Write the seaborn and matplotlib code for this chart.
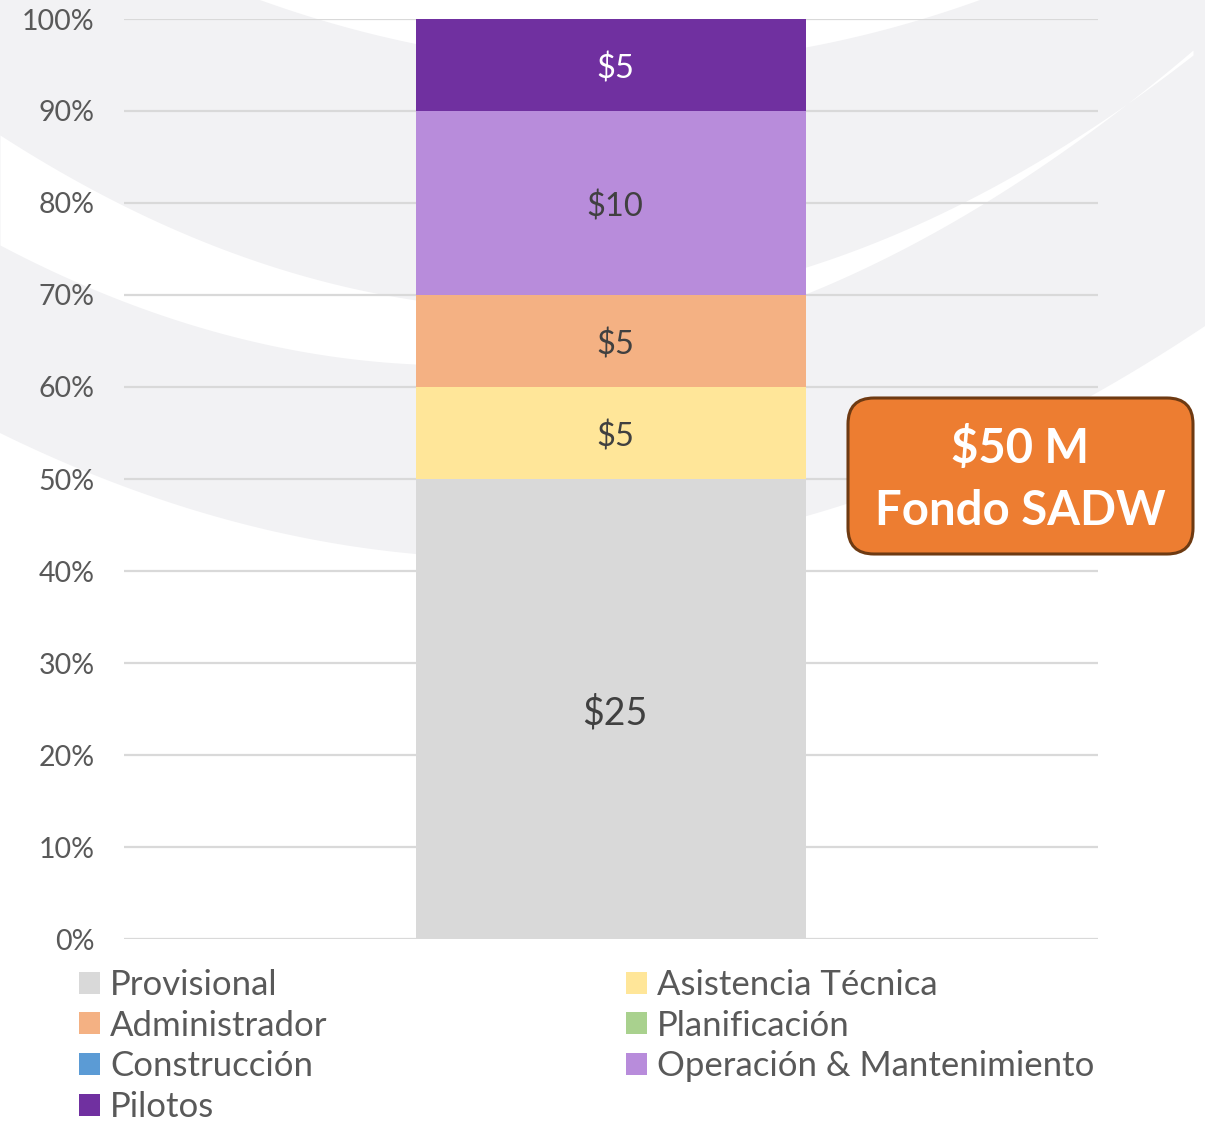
import numpy as np
import pandas as pd
import matplotlib
matplotlib.use("Agg")
import matplotlib.pyplot as plt
from matplotlib.patches import Patch, FancyBboxPatch
import seaborn as sns

# ---------------- data ----------------
categories = ["Provisional", "Asistencia Técnica", "Administrador", "Planificación",
              "Construcción", "Operación & Mantenimiento", "Pilotos"]
values_musd = [25, 5, 5, 0, 0, 10, 5]
colors = ["#D9D9D9", "#FFE699", "#F4B183", "#A9D18E", "#5B9BD5", "#B88CDB", "#7030A0"]
label_colors = ["#404040", "#404040", "#404040", "#404040", "#404040", "#404040", "#FFFFFF"]
bar_name = ["Fondo SADW"]
ytick_values = [0, 10, 20, 30, 40, 50, 60, 70, 80, 90, 100]
box_title = "$50 M\nFondo SADW"

# ---------------- style ----------------
sns.set_theme(style="white")
plt.rcParams["font.family"] = ["Lato", "DejaVu Sans"]

W, H = 1205, 1122
fig = plt.figure(figsize=(W / 100, H / 100), dpi=100)
fig.patch.set_facecolor("white")

# decorative background swooshes (pixel coordinates)
bg = fig.add_axes([0, 0, 1, 1], zorder=-2)
bg.set_xlim(0, W)
bg.set_ylim(H, 0)
bg.axis("off")
xs = np.linspace(0, W, 600)
c1 = np.clip(-5.0e-4 * (xs - 260) * (xs - 980), 0, None)
c4 = 433 + 0.4911 * xs - 4.812e-4 * xs ** 2
bg.fill_between(xs, c1, c4, color="#F2F2F4", lw=0)
xs2 = np.linspace(0, 1193, 600)
c2 = 135 + 0.6449 * xs2 - 5.968e-4 * xs2 ** 2
c3 = 245 + 0.5268 * xs2 - 5.786e-4 * xs2 ** 2
bg.fill_between(xs2, c2, c3, color="white", lw=0)

# main axes
ax = fig.add_axes([124 / W, 1 - 939 / H, (1098 - 124) / W, (939 - 19) / H])
ax.set_facecolor("none")

total = sum(values_musd)
pct = np.array(values_musd) / total * 100
cum = np.cumsum(pct)

# draw cumulative bars from the top down so lower segments overlay
for i in range(len(categories) - 1, -1, -1):
    df = pd.DataFrame({"bar": bar_name, "pct": [cum[i]]})
    sns.barplot(data=df, x="bar", y="pct", color=colors[i], saturation=1,
                width=0.4, linewidth=0, ax=ax, zorder=2)

# segment labels
for i, v in enumerate(values_musd):
    if v <= 0:
        continue
    mid = cum[i] - pct[i] / 2
    fs = 27 if pct[i] >= 40 else 23.5
    ax.annotate(f"${v}", xy=(0, mid), xytext=(3, -3), textcoords="offset points",
                ha="center", va="center", fontsize=fs, color=label_colors[i], zorder=3)

ax.set_xlim(-0.5, 0.5)
ax.set_ylim(0, 100)
ax.set_yticks(ytick_values)
ax.set_yticklabels([f"{t}%" for t in ytick_values], fontsize=20.5, color="#595959")
ax.tick_params(axis="y", length=0, pad=21)
ax.set_xticks([])
ax.set_xlabel("")
ax.set_ylabel("")
for s in ax.spines.values():
    s.set_visible(False)
ax.yaxis.grid(True, color="#D9D9D9", linewidth=1.6, zorder=0)
ax.set_axisbelow(True)

# legend in two explicit columns (row-wise order like the original)
handles = [Patch(facecolor=c, edgecolor="none") for c in colors]
col1 = [0, 2, 4, 6]
col2 = [1, 3, 5]
leg_kw = dict(frameon=False, fontsize=25, handlelength=0.6, handleheight=0.6,
              handletextpad=0.3, labelspacing=0.25, borderpad=0, borderaxespad=0,
              loc="upper left", labelcolor="#595959")
l1 = fig.legend([handles[i] for i in col1], [categories[i] for i in col1],
                bbox_to_anchor=(79 / W, 1 - 969 / H), **leg_kw)
l2 = fig.legend([handles[i] for i in col2], [categories[i] for i in col2],
                bbox_to_anchor=(626 / W, 1 - 969 / H), **leg_kw)

# callout box
ov = fig.add_axes([0, 0, 1, 1], zorder=5)
ov.set_xlim(0, W)
ov.set_ylim(H, 0)
ov.axis("off")
ov.set_facecolor("none")
box = FancyBboxPatch((848, 398), 345, 156, boxstyle="round,pad=0,rounding_size=26",
                     facecolor="#ED7D31", edgecolor="#6E3A12", linewidth=2.2)
ov.add_patch(box)
lines = box_title.split("\n")
ov.text(1020, 448, lines[0], ha="center", va="center", fontsize=34,
        fontweight="bold", color="white")
ov.text(1020, 511, lines[1], ha="center", va="center", fontsize=34,
        fontweight="bold", color="white")

fig.savefig("out.png", dpi=100)
